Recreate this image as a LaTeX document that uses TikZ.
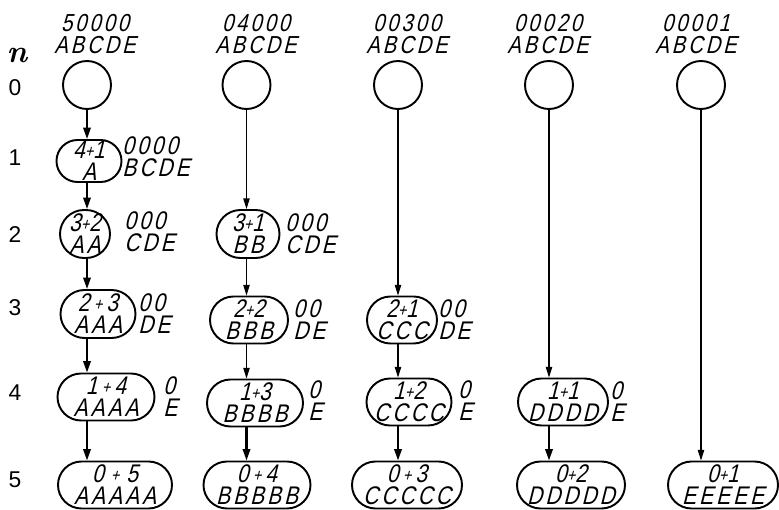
\documentclass[tikz,border=0pt]{standalone}
\usepackage{fontspec}
\usetikzlibrary{shapes.misc,arrows.meta}
\newfontfamily\draftfont[FakeSlant=0.25,FakeStretch=0.82,LetterSpace=12]{Liberation Sans}
\newfontfamily\rowfont{Liberation Sans}
\newcommand{\plus}{\raisebox{1pt}{\fontsize{10}{10}\selectfont +}}
% two lines of text that do not widen the outline
\newcommand{\bagtext}[2]{\makebox[0pt]{#1}\\\makebox[0pt]{#2}}
\tikzset{
  draft/.style={font=\draftfont\fontsize{14.5}{12.5}\selectfont, align=center, inner sep=0pt},
  root/.style={draw, circle, line width=1.1pt, minimum size=0.96cm, inner sep=0pt},
  bag/.style={draft, draw, rounded rectangle, line width=1.1pt, inner xsep=0pt, minimum height=0.94cm},
  remain/.style={draft, align=left, anchor=west},
  thinarr/.style={line width=0.6pt, -{Triangle[length=6pt,width=3.6pt]}},
  thickarr/.style={line width=1.2pt, -{Triangle[length=6.5pt,width=4.2pt]}},
  rowlabel/.style={font=\rowfont\fontsize{13}{14}\selectfont}
}

\begin{document}
\begin{tikzpicture}
  \useasboundingbox (0,0) rectangle (15.58,10.18);

  % step numbers
  \node (n) at (0.34,9.08) {\fontsize{18}{18}\selectfont\bfseries\itshape n};
  \node[rowlabel] (r0) at (0.30,8.42) {0};
  \node[rowlabel] (r1) at (0.30,7.02) {1};
  \node[rowlabel] (r2) at (0.30,5.48) {2};
  \node[rowlabel] (r3) at (0.30,4.02) {3};
  \node[rowlabel] (r4) at (0.30,2.32) {4};
  \node[rowlabel] (r5) at (0.30,0.58) {5};

  % starting states
  \node[draft, font=\draftfont\fontsize{14}{12.5}\selectfont] (lblA) at (1.90,9.50) {50000\\ABCDE};
  \node[draft, font=\draftfont\fontsize{14}{12.5}\selectfont] (lblB) at (5.12,9.50) {04000\\ABCDE};
  \node[draft, font=\draftfont\fontsize{14}{12.5}\selectfont] (lblC) at (8.14,9.50) {00300\\ABCDE};
  \node[draft, font=\draftfont\fontsize{14}{12.5}\selectfont] (lblD) at (10.96,9.50) {00020\\ABCDE};
  \node[draft, font=\draftfont\fontsize{14}{12.5}\selectfont] (lblE) at (13.92,9.50) {00001\\ABCDE};
  \node[root] (a0) at (1.74,8.48) {};
  \node[root] (b0) at (4.93,8.48) {};
  \node[root] (c0) at (7.96,8.48) {};
  \node[root] (d0) at (10.98,8.48) {};
  \node[root] (e0) at (14.02,8.48) {};

  % column A
  \node[bag, minimum width=1.30cm, minimum height=0.84cm] (a1) at (1.78,6.96) {\bagtext{4\plus1}{A}};
  \node[bag, minimum width=1.00cm, minimum height=0.96cm] (a2) at (1.70,5.50) {\bagtext{3\plus2}{AA}};
  \node[bag, minimum width=1.50cm, minimum height=0.96cm] (a3) at (1.96,3.90) {\bagtext{2\,\plus\,3}{AAA}};
  \node[bag, minimum width=1.94cm] (a4) at (2.12,2.24) {\bagtext{1\,\plus\,4}{AAAA}};
  \node[bag, minimum width=2.28cm] (a5) at (2.30,0.48) {\bagtext{0\;\plus\;5}{AAAAA}};
  \node[remain] (ra1) at (2.44,7.04) {0000\\BCDE};
  \node[remain] (ra2) at (2.48,5.54) {000\\CDE};
  \node[remain] (ra3) at (2.76,3.90) {00\\DE};
  \node[remain] (ra4) at (3.26,2.24) {0\\E};
  \draw[thickarr] (a0.south) -- (a0.south |- a1.north);
  \draw[thickarr] (a0.south |- a1.south) -- (a0.south |- a2.north);
  \draw[thickarr] (a0.south |- a2.south) -- (a0.south |- a3.north);
  \draw[thickarr] (a0.south |- a3.south) -- (a0.south |- a4.north);
  \draw[thickarr] (a0.south |- a4.south) -- (a0.south |- a5.north);

  % column B
  \node[bag, minimum width=1.26cm, minimum height=0.96cm] (b2) at (4.96,5.50) {\bagtext{3\plus1}{BB}};
  \node[bag, minimum width=1.56cm] (b3) at (4.98,3.78) {\bagtext{2\plus2}{BBB}};
  \node[bag, minimum width=1.92cm] (b4) at (5.10,2.12) {\bagtext{1\plus3}{BBBB}};
  \node[bag, minimum width=2.14cm] (b5) at (5.14,0.48) {\bagtext{0\,\plus\,4}{BBBBB}};
  \node[remain] (rb2) at (5.70,5.50) {000\\CDE};
  \node[remain] (rb3) at (5.86,3.78) {00\\DE};
  \node[remain] (rb4) at (6.16,2.16) {0\\E};
  \draw[thinarr] (b0.south) -- (b0.south |- b2.north);
  \draw[thinarr] (b0.south |- b2.south) -- (b0.south |- b3.north);
  \draw[thinarr] (b0.south |- b3.south) -- (b0.south |- b4.north);
  \draw[thickarr] (b0.south |- b4.south) -- (b0.south |- b5.north);

  % column C
  \node[bag, minimum width=1.40cm] (c3) at (8.04,3.78) {\bagtext{2\plus1}{CCC}};
  \node[bag, minimum width=1.70cm] (c4) at (8.18,2.14) {\bagtext{1\plus2}{CCCC}};
  \node[bag, minimum width=2.20cm] (c5) at (8.14,0.48) {\bagtext{0\,\plus\,3}{CCCCC}};
  \node[remain] (rc3) at (8.76,3.78) {00\\DE};
  \node[remain] (rc4) at (9.16,2.16) {0\\E};
  \draw[thinarr] (c0.south) -- (c0.south |- c3.north);
  \draw[thinarr] (c0.south |- c3.south) -- (c0.south |- c4.north);
  \draw[thickarr] (c0.south |- c4.south) -- (c0.south |- c5.north);

  % column D
  \node[bag, minimum width=1.80cm] (d4) at (11.26,2.14) {\bagtext{1\plus1}{DDDD}};
  \node[bag, minimum width=2.16cm] (d5) at (11.42,0.48) {\bagtext{0\plus2}{DDDDD}};
  \node[remain] (rd4) at (12.20,2.14) {0\\E};
  \draw[thinarr] (d0.south) -- (d0.south |- d4.north);
  \draw[thickarr] (d0.south |- d4.south) -- (d0.south |- d5.north);

  % column E
  \node[bag, minimum width=2.20cm] (e5) at (14.46,0.48) {\bagtext{0\plus1}{EEEEE}};
  \draw[thinarr] (e0.south) -- (e0.south |- e5.north);
\end{tikzpicture}
\end{document}
